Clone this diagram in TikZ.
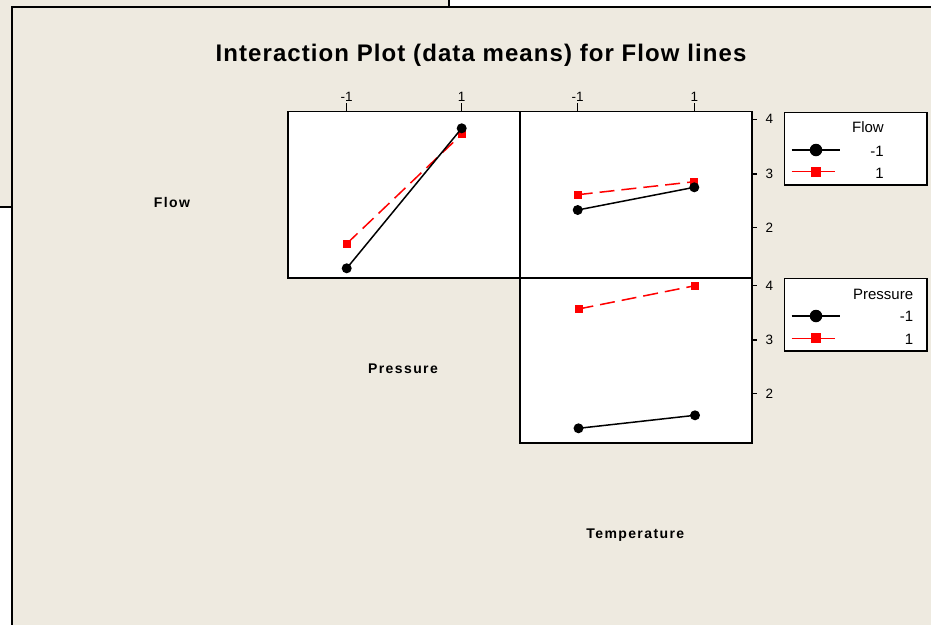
\documentclass[tikz,border=0pt]{standalone}
\usepackage{fontspec}
\setmainfont{Liberation Sans}
\definecolor{bg}{RGB}{238,234,224}
\definecolor{pred}{RGB}{255,0,0}
\begin{document}
\begin{tikzpicture}[x=1pt,y=-1pt,
  winline/.style={draw=black, line width=2.2pt},
  panel/.style={fill=white, draw=black, line width=1.7pt},
  blkline/.style={draw=black, line width=1.5pt},
  redline/.style={draw=pred, line width=1.5pt, dash pattern=on 15pt off 7pt},
  fdot/.style={circle, fill=black, inner sep=0pt, minimum size=10pt},
  fsq/.style={rectangle, fill=pred, inner sep=0pt, minimum size=8pt},
  ldot/.style={circle, fill=black, inner sep=0pt, minimum size=12.5pt},
  lsq/.style={rectangle, fill=pred, inner sep=0pt, minimum size=10pt},
  tickline/.style={draw=black, line width=1.2pt},
  ticklab/.style={font=\fontsize{13.5}{15}\selectfont, inner sep=0pt},
  axlab/.style={font=\fontsize{14}{16}\selectfont\bfseries\addfontfeature{LetterSpace=10}, inner sep=0pt},
  legtxt/.style={font=\fontsize{15}{17}\selectfont, inner sep=0pt, anchor=base east},
  legbox/.style={fill=white, draw=black, line width=1.6pt},
  legblk/.style={draw=black, line width=1.5pt},
  legred/.style={draw=pred, line width=1.5pt},
]
\useasboundingbox (0,0) rectangle (931,625);
% windows
\fill[white] (0,0) rectangle (931,625);
\fill[bg] (0,0) rectangle (449.3,206.7);
\draw[winline] (449.3,0) -- (449.3,7.3);
\draw[winline] (0,206.7) -- (12.3,206.7);
\fill[bg] (12.3,7.3) rectangle (931,625);
\draw[winline] (931,7.3) -- (12.3,7.3) -- (12.3,625);
% title
\node[font=\fontsize{24}{28}\selectfont\bfseries\addfontfeature{LetterSpace=4.5}, inner sep=0pt, anchor=base] (title) at (481,61) {Interaction Plot (data means) for Flow lines};
% factor labels
\node[axlab] (lflow) at (172,202.5) {Flow};
\node[axlab] (lpress) at (403,369) {Pressure};
\node[axlab] (ltemp) at (635.3,534.7) {Temperature};
% panels
\draw[panel] (288,111.5) rectangle (520.3,277.7);
\draw[panel] (520.3,111.5) rectangle (751.7,277.7);
\draw[panel] (520.3,277.7) rectangle (751.7,443.3);
% top ticks
\foreach \x/\t in {346.7/-1,461.7/1,577.7/-1,694.3/1}{
  \draw[tickline] (\x,103) -- (\x,111.5);
  \node[ticklab, anchor=base] at (\x,101.5) {\t};
}
% right ticks
\foreach \y/\t in {119.3/4,174/3,227.3/2,285.7/4,340/3,393.3/2}{
  \draw[tickline] (751.7,\y) -- (757,\y);
  \node[ticklab, anchor=west] at (765.5,\y) {\t};
}
% data points
\coordinate (a1) at (346.7,268.3); \coordinate (a2) at (461.7,128.3);
\coordinate (b1) at (346.7,243.7); \coordinate (b2) at (461.7,134.3);
\coordinate (c1) at (577.7,210);   \coordinate (c2) at (694.3,187.3);
\coordinate (d1) at (577.7,194.7); \coordinate (d2) at (694.3,181.7);
\coordinate (e1) at (578.5,428.3); \coordinate (e2) at (695,415.3);
\coordinate (f1) at (578.5,309);   \coordinate (f2) at (695,285.7);
\draw[redline] (b1) -- (b2);
\draw[redline] (d1) -- (d2);
\draw[redline] (f1) -- (f2);
\foreach \p in {b1,b2,d1,d2,f1,f2}{ \node[fsq] (m\p) at (\p) {}; }
\draw[blkline] (a1) -- (a2);
\draw[blkline] (c1) -- (c2);
\draw[blkline] (e1) -- (e2);
\foreach \p in {a1,a2,c1,c2,e1,e2}{ \node[fdot] (m\p) at (\p) {}; }
% legend Flow
\draw[legbox] (784.3,112.3) rectangle (926.7,185);
\node[legtxt] (lgft) at (884,132.7) {Flow};
\coordinate (lf1a) at (791.7,150); \coordinate (lf1b) at (840,150);
\coordinate (lf2a) at (791.7,171.7); \coordinate (lf2b) at (835,171.7);
\draw[legblk] (lf1a) -- (lf1b);
\draw[legred] (lf2a) -- (lf2b);
\node[ldot] (lfd) at (816,150) {};
\node[lsq] (lfs) at (816,171.7) {};
\node[legtxt] (lgf1) at (884,156) {-1};
\node[legtxt] (lgf2) at (884,178.3) {1};
% legend Pressure
\draw[legbox] (784.3,278.3) rectangle (926.7,350.7);
\node[legtxt] (lgpt) at (913.3,299) {Pressure};
\coordinate (lp1a) at (791.7,316); \coordinate (lp1b) at (840,316);
\coordinate (lp2a) at (791.7,338.3); \coordinate (lp2b) at (835,338.3);
\draw[legblk] (lp1a) -- (lp1b);
\draw[legred] (lp2a) -- (lp2b);
\node[ldot] (lpd) at (816,316) {};
\node[lsq] (lps) at (816,338.3) {};
\node[legtxt] (lgp1) at (913.3,321.7) {-1};
\node[legtxt] (lgp2) at (913.3,344.3) {1};
\end{tikzpicture}
\end{document}
